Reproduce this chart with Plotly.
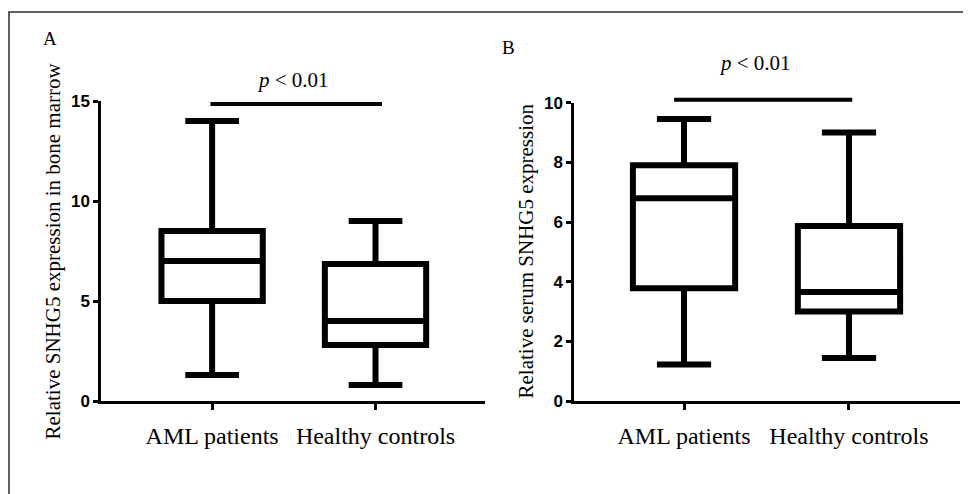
import plotly.graph_objects as go

# ---------------- data ----------------
categories = ["AML patients", "Healthy controls"]

# Panel A: relative SNHG5 expression in bone marrow
a_lower = [1.3, 0.8]
a_q1 = [5.0, 2.8]
a_median = [7.0, 4.0]
a_q3 = [8.5, 6.85]
a_upper = [14.0, 9.0]
a_ticks = [0, 5, 10, 15]
a_sig_y = 14.85

# Panel B: relative serum SNHG5 expression
b_lower = [1.22, 1.44]
b_q1 = [3.78, 3.0]
b_median = [6.8, 3.65]
b_q3 = [7.9, 5.87]
b_upper = [9.45, 9.0]
b_ticks = [0, 2, 4, 6, 8, 10]
b_sig_y = 10.1

sig_text = "<i>p</i> &lt; 0.01"

W, H = 971, 494
OFF = 8  # default page body margin shifts the figure by this many pixels


def px_x(p):
    return (p - OFF) / W


def px_y(p):
    return (H - (p - OFF)) / H


SERIF = "Liberation Serif"
SANS = "Liberation Sans"

fig = go.Figure()

box_style = dict(
    line=dict(color="black", width=6),
    fillcolor="white",
    whiskerwidth=0.53,
    width=0.62,
    showlegend=False,
    hoverinfo="skip",
)

fig.add_trace(go.Box(
    x=categories, q1=a_q1, median=a_median, q3=a_q3,
    lowerfence=a_lower, upperfence=a_upper,
    xaxis="x", yaxis="y", **box_style))

fig.add_trace(go.Box(
    x=categories, q1=b_q1, median=b_median, q3=b_q3,
    lowerfence=b_lower, upperfence=b_upper,
    xaxis="x2", yaxis="y2", **box_style))

xaxis_common = dict(
    type="category",
    showline=True, linecolor="black", linewidth=2.5,
    ticks="outside", ticklen=6, tickwidth=2.5, tickcolor="black",
    tickfont=dict(family=SERIF, size=24, color="black"),
    ticklabelstandoff=5,
    showgrid=False, zeroline=False, automargin=False,
)
yaxis_common = dict(
    showline=True, linecolor="black", linewidth=2.5,
    ticks="outside", ticklen=5, tickwidth=2.5, tickcolor="black",
    tickfont=dict(family=SANS, size=17, color="black", weight="bold"),
    showgrid=False, zeroline=False, automargin=False,
)

fig.update_layout(
    width=W, height=H,
    autosize=False,
    margin=dict(l=0, r=0, t=0, b=0, pad=0, autoexpand=False),
    paper_bgcolor="white", plot_bgcolor="white",
    xaxis=dict(domain=[px_x(101), px_x(485)], range=[-0.68, 1.67],
               anchor="y", **xaxis_common),
    yaxis=dict(domain=[px_y(401), px_y(101)], range=[0, 15],
               tickvals=a_ticks, anchor="x", **yaxis_common),
    xaxis2=dict(domain=[px_x(574), px_x(960)], range=[-0.667, 1.673],
                anchor="y2", **xaxis_common),
    yaxis2=dict(domain=[px_y(401), px_y(102.7)], range=[0, 10],
                tickvals=b_ticks, anchor="x2", **yaxis_common),
)

# significance bars
fig.add_shape(type="line", xref="x", yref="y",
              x0=-0.01, x1=1.04, y0=a_sig_y, y1=a_sig_y,
              line=dict(color="black", width=4))
fig.add_shape(type="line", xref="x2", yref="y2 domain",
              x0=-0.06, x1=1.02, y0=b_sig_y / 10, y1=b_sig_y / 10,
              line=dict(color="black", width=4))

# figure border (top and left visible)
fig.add_shape(type="path", xref="paper", yref="paper",
              path=f"M {px_x(9)} 0 L {px_x(9)} {px_y(12)} L 1 {px_y(12)}",
              line=dict(color="#2a2a2a", width=1.5))

txt = dict(xref="paper", yref="paper", showarrow=False,
           xanchor="center", yanchor="middle")
ann = [
    dict(text=sig_text, x=px_x(293), y=px_y(80),
         font=dict(family=SERIF, size=21, color="black"), **txt),
    dict(text=sig_text, x=px_x(755), y=px_y(63),
         font=dict(family=SERIF, size=21, color="black"), **txt),
    dict(text="A", x=px_x(50), y=px_y(38),
         font=dict(family=SERIF, size=19, color="black"), **txt),
    dict(text="B", x=px_x(508), y=px_y(47),
         font=dict(family=SERIF, size=19, color="black"), **txt),
    dict(text="Relative SNHG5 expression in bone marrow", textangle=-90,
         x=px_x(53), y=px_y(251.5),
         font=dict(family=SERIF, size=21, color="black"), **txt),
    dict(text="Relative serum SNHG5 expression", textangle=-90,
         x=px_x(526), y=px_y(251.5),
         font=dict(family=SERIF, size=21, color="black"), **txt),
]
fig.update_layout(annotations=ann)

fig.write_html("out.html")
